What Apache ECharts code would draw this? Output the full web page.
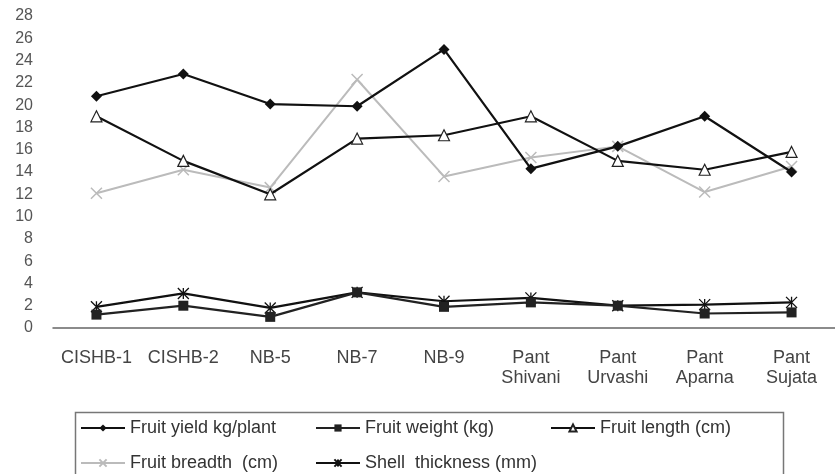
<!DOCTYPE html>
<html>
<head>
<meta charset="utf-8">
<script src="https://cdn.jsdelivr.net/npm/echarts@6/dist/echarts.min.js"></script>
<style>
html,body{margin:0;padding:0;background:#fff;}
#chart{width:835px;height:474px;}
</style>
</head>
<body>
<div id="chart"></div>
<script>
var categories = ['CISHB-1','CISHB-2','NB-5','NB-7','NB-9','Pant\nShivani','Pant\nUrvashi','Pant\nAparna','Pant\nSujata'];
var fruitYield   = [20.8, 22.8, 20.1, 19.9, 25.0, 14.3, 16.3, 19.0, 14.0];
var fruitWeight  = [1.2, 2.0, 1.0, 3.2, 1.9, 2.3, 2.0, 1.3, 1.4];
var fruitLength  = [19.0, 15.0, 12.0, 17.0, 17.3, 19.0, 15.0, 14.2, 15.8];
var fruitBreadth = [12.1, 14.2, 12.6, 22.3, 13.6, 15.3, 16.3, 12.2, 14.5];
var shellThick   = [1.9, 3.1, 1.8, 3.2, 2.4, 2.7, 2.0, 2.1, 2.3];
var seriesNames = ['Fruit yield kg/plant','Fruit weight (kg)','Fruit length (cm)','Fruit breadth  (cm)','Shell  thickness (mm)'];

var FONT = '"Liberation Sans", Arial, sans-serif';
var chart = echarts.init(document.getElementById('chart'), null, {renderer:'canvas'});

var crossPath = 'path://M0,0L10,10M10,0L0,10';
var starPath = 'path://M5,0L5,10M0,0L10,10M10,0L0,10';

function legendAt(name, left, top) {
  return {
    left: left, top: top, padding: 0,
    orient: 'horizontal',
    data: [name],
    itemWidth: 44,
    itemHeight: 9,
    textStyle: {fontFamily: FONT, fontSize: 18, color: '#333', lineHeight: 20},
    selectedMode: false
  };
}

var option = {
  animation: false,
  backgroundColor: '#fff',
  grid: {left: 53, right: 0, top: 16, bottom: 146, containLabel: false},
  graphic: [{
    type: 'rect', left: 73, top: 410,
    shape: {width: 708, height: 90},
    style: {fill: 'none', stroke: '#777', lineWidth: 1.5},
    z: -1
  }],
  legend: [
    legendAt(seriesNames[0], 80, 418),
    legendAt(seriesNames[1], 315, 418),
    legendAt(seriesNames[2], 550, 418),
    legendAt(seriesNames[3], 80, 453),
    legendAt(seriesNames[4], 315, 453)
  ],
  xAxis: {
    type: 'category',
    data: categories,
    boundaryGap: true,
    axisLine: {show: true, lineStyle: {color: '#666', width: 1.5}},
    axisTick: {show: false},
    axisLabel: {fontFamily: FONT, fontSize: 18, color: '#444', margin: 20, lineHeight: 20, interval: 0}
  },
  yAxis: {
    type: 'value',
    min: 0, max: 28, interval: 2,
    axisLine: {show: false},
    axisTick: {show: false},
    splitLine: {show: false},
    axisLabel: {fontFamily: FONT, fontSize: 16, color: '#555', margin: 20}
  },
  series: [
    {
      name: seriesNames[3], type: 'line', data: fruitBreadth,
      symbol: crossPath, symbolSize: 11,
      lineStyle: {color: '#bbb', width: 2},
      itemStyle: {color: '#bbb', borderColor: '#bbb', borderWidth: 1.5},
      z: 2
    },
    {
      name: seriesNames[0], type: 'line', data: fruitYield,
      symbol: 'diamond', symbolSize: 11,
      lineStyle: {color: '#111', width: 2.2},
      itemStyle: {color: '#111'},
      z: 3
    },
    {
      name: seriesNames[2], type: 'line', data: fruitLength,
      symbol: 'triangle', symbolSize: 11,
      lineStyle: {color: '#111', width: 2.2},
      itemStyle: {color: '#fff', borderColor: '#222', borderWidth: 1.2},
      z: 3
    },
    {
      name: seriesNames[4], type: 'line', data: shellThick,
      symbol: starPath, symbolSize: 11,
      lineStyle: {color: '#111', width: 2.2},
      itemStyle: {color: '#111', borderColor: '#111', borderWidth: 1.3},
      z: 3
    },
    {
      name: seriesNames[1], type: 'line', data: fruitWeight,
      symbol: 'rect', symbolSize: 10,
      lineStyle: {color: '#222', width: 2.2},
      itemStyle: {color: '#222'},
      z: 4
    }
  ]
};
chart.setOption(option);
</script>
</body>
</html>
